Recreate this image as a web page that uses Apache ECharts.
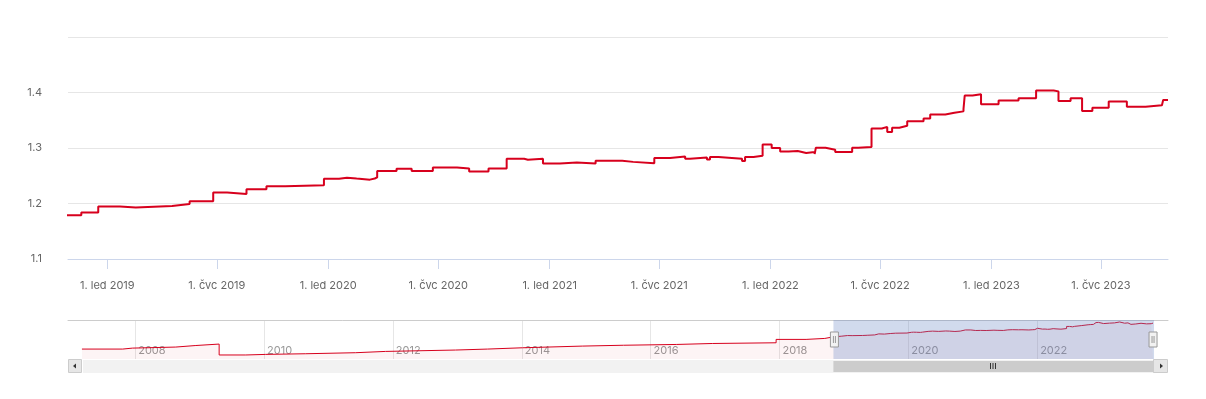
<!DOCTYPE html>
<html><head><meta charset="utf-8">
<script src="https://cdn.jsdelivr.net/npm/echarts@6/dist/echarts.min.js"></script>
<style>html,body{margin:0;padding:0;background:#fff}#c{width:1206px;height:399px}</style>
</head><body><div id="c"></div>
<script>
const dates = [
'2007-03-05','2007-10-22','2007-12-17','2008-08-18','2008-12-10','2009-04-21','2009-09-19','2010-01-10',
'2010-08-25','2011-06-04','2011-11-21','2012-12-21','2013-06-20','2014-01-05','2014-12-10','2015-08-01',
'2016-05-26','2016-12-16','2017-12-13','2018-06-01','2018-09-15',
'2018-10-15','2018-11-19','2018-12-17','2019-01-22','2019-02-17','2019-04-18','2019-05-17','2019-06-25',
'2019-07-18','2019-08-19','2019-09-21','2019-10-22','2019-12-25','2020-01-19','2020-02-01','2020-02-17',
'2020-03-10','2020-03-18','2020-03-22','2020-04-23','2020-05-18','2020-06-22','2020-08-01','2020-08-21',
'2020-09-22','2020-10-22','2020-11-20','2020-11-26','2020-12-21','2021-01-18','2021-02-15','2021-03-18',
'2021-05-01','2021-05-19','2021-06-23','2021-07-19','2021-08-13','2021-08-21','2021-09-18','2021-09-23',
'2021-10-07','2021-11-15','2021-11-20','2021-12-04','2021-12-19','2022-01-03','2022-01-17','2022-01-31',
'2022-02-15','2022-03-01','2022-03-15','2022-03-17','2022-04-02','2022-04-18','2022-05-16','2022-05-26',
'2022-06-17','2022-07-04','2022-07-13','2022-07-21','2022-08-02','2022-08-15','2022-09-11','2022-09-22',
'2022-10-17','2022-11-01','2022-11-16','2022-11-18','2022-12-01','2022-12-15','2023-01-13','2023-02-15',
'2023-03-16','2023-04-14','2023-04-22','2023-05-12','2023-05-31','2023-06-17','2023-07-14','2023-08-13',
'2023-09-13','2023-10-10','2023-10-12','2023-10-20'
];
const values = [
0.986,1.001,1.017,1.041,1.063,0.895,0.904,0.914,
0.930,0.950,0.971,0.986,1.006,1.032,1.045,1.057,
1.072,1.083,1.135,1.150,1.165,
1.179,1.184,1.1945,1.193,1.1956,1.199,1.204,1.220,
1.217,1.2255,1.231,1.233,1.2447,1.2466,1.245,1.243,
1.245,1.247,1.2587,1.2624,1.2587,1.2648,1.263,1.2575,
1.263,1.2805,1.279,1.2805,1.272,1.2738,1.272,1.2769,
1.275,1.2727,1.2818,1.2847,1.2805,1.283,1.2793,1.2836,
1.2805,1.2764,1.2836,1.286,1.3065,1.300,1.2938,1.2945,
1.291,1.2927,1.289,1.3005,1.297,1.2927,1.3005,1.302,
1.335,1.338,1.329,1.3364,1.340,1.3484,1.3533,1.3605,
1.3636,1.366,1.370,1.3945,1.397,1.379,1.3855,1.3896,
1.4036,1.402,1.3847,1.3896,1.3666,1.3727,1.3836,1.3745,
1.377,1.3787,1.3865,1.3865
];
const viewStart = '2018-10-28';
const viewEnd = '2023-10-20';
const navRange = ['2006-12-16', '2024-01-13'];
const mainTicks = ['2019-01-01','2019-07-01','2020-01-01','2020-07-01','2021-01-01','2021-07-01',
  '2022-01-01','2022-07-01','2023-01-01','2023-07-01'];
const navTicks = ['2008-01-01','2010-01-01','2012-01-01','2014-01-01','2016-01-01','2018-01-01','2020-01-01','2022-01-01'];
const yRange = [1.1, 1.5];
const yStep = 0.1;
const monthsCz = ['led','úno','bře','dub','kvě','čvn','čvc','srp','zář','říj','lis','pro'];

function ts(s){const p=s.split('-').map(Number);return new Date(p[0],p[1]-1,p[2]).getTime();}
const data = dates.map((d,i)=>[ts(d), values[i]]);
const RED = '#d7001d';
const FONT = 'Inter';

const chart = echarts.init(document.getElementById('c'), null, {renderer:'canvas'});
chart.setOption({
  animation:false,
  backgroundColor:'#ffffff',
  textStyle:{fontFamily:FONT},
  grid:[
    {left:68, right:38, top:37, bottom:140},
    {left:68, right:38, top:320, height:39}
  ],
  xAxis:[
    {type:'value', gridIndex:0, min:'dataMin', max:'dataMax',
     axisLine:{show:true, lineStyle:{color:'#ccd6eb', width:1}},
     axisTick:{show:true, length:10, lineStyle:{color:'#ccd6eb'}, customValues: mainTicks.map(ts)},
     axisLabel:{color:'#666666', fontSize:11, fontFamily:FONT, margin:21, hideOverlap:false,
       showMinLabel:true, showMaxLabel:true,
       customValues: mainTicks.map(ts),
       formatter:function(v){const d=new Date(v);return '1. '+monthsCz[d.getMonth()]+' '+d.getFullYear();}},
     splitLine:{show:false}},
    {type:'value', gridIndex:1, position:'top', min:ts(navRange[0]), max:ts(navRange[1]),
     axisLine:{show:true, lineStyle:{color:'#cccccc', width:1}},
     axisTick:{show:false, customValues: navTicks.map(ts)},
     axisLabel:{inside:true, margin:25, color:'#999999', fontSize:11, fontFamily:FONT, align:'left',
       padding:[0,0,0,3], customValues: navTicks.map(ts), hideOverlap:false,
       formatter:function(v){return String(new Date(v).getFullYear());}},
     splitLine:{show:true, lineStyle:{color:'#e6e6e6', width:1}}}
  ],
  yAxis:[
    {type:'value', gridIndex:0, min:yRange[0], max:yRange[1], interval:yStep,
     axisLine:{show:false}, axisTick:{show:false},
     axisLabel:{color:'#666666', fontSize:11, fontFamily:FONT, margin:26,
       formatter:function(v){return v>yRange[1]-yStep/2?'':v.toFixed(1);}},
     splitLine:{show:true, lineStyle:{color:'#e6e6e6', width:1}}},
    {type:'value', gridIndex:1, min:0.833, max:1.434, show:false, splitLine:{show:false}}
  ],
  dataZoom:[
    {type:'slider', xAxisIndex:0, filterMode:'none', left:82, right:53, top:320, height:39,
     startValue:ts(viewStart), endValue:ts(viewEnd),
     showDataShadow:false, showDetail:false, brushSelect:false, moveHandleSize:0,
     backgroundColor:'rgba(0,0,0,0)', borderColor:'rgba(0,0,0,0)', borderRadius:0,
     fillerColor:'rgba(102,133,194,0.3)',
     handleIcon:'path://M0,0L8,0L8,15L0,15Z M3,4L3,11 M5,4L5,11',
     handleSize:15,
     handleStyle:{color:'#f2f2f2', borderColor:'#999999', borderWidth:1},
     emphasis:{handleStyle:{color:'#f2f2f2', borderColor:'#999999'}},
     z:10},
    {type:'slider', xAxisIndex:0, filterMode:'none', left:82, right:53, top:360, height:13,
     startValue:ts(viewStart), endValue:ts(viewEnd),
     showDataShadow:false, showDetail:false, brushSelect:false, moveHandleSize:0,
     backgroundColor:'#f2f2f2', borderColor:'#f2f2f2', borderRadius:0,
     fillerColor:'#cccccc',
     handleIcon:'path://M0,0L1,0L1,1L0,1Z', handleSize:1,
     handleStyle:{opacity:0, borderWidth:0},
     z:9}
  ],
  series:[
    {type:'line', xAxisIndex:0, yAxisIndex:0, data:data, step:'end', showSymbol:false, symbol:'none',
     clip:true, silent:true, lineStyle:{color:RED, width:2}, itemStyle:{color:RED}},
    {type:'line', xAxisIndex:1, yAxisIndex:1, data:data, step:'end', showSymbol:false, symbol:'none',
     silent:true, lineStyle:{color:RED, width:1}, itemStyle:{color:RED},
     areaStyle:{color:'rgba(215,0,29,0.06)', origin:'start'}}
  ],
  graphic:[
    {type:'rect', z:20, shape:{x:68.5,y:359.5,width:13,height:13}, style:{fill:'#e6e6e6', stroke:'#cccccc', lineWidth:1}},
    {type:'polygon', z:21, shape:{points:[[73,366],[76,363.5],[76,368.5]]}, style:{fill:'#333333'}},
    {type:'rect', z:20, shape:{x:1153.5,y:359.5,width:14,height:13}, style:{fill:'#e6e6e6', stroke:'#cccccc', lineWidth:1}},
    {type:'polygon', z:21, shape:{points:[[1163,366],[1160,363.5],[1160,368.5]]}, style:{fill:'#333333'}},
    {type:'rect', z:21, shape:{x:990,y:363,width:1,height:6}, style:{fill:'#333333'}},
    {type:'rect', z:21, shape:{x:992.5,y:363,width:1,height:6}, style:{fill:'#333333'}},
    {type:'rect', z:21, shape:{x:995,y:363,width:1,height:6}, style:{fill:'#333333'}}
  ]
});
</script>
</body></html>
